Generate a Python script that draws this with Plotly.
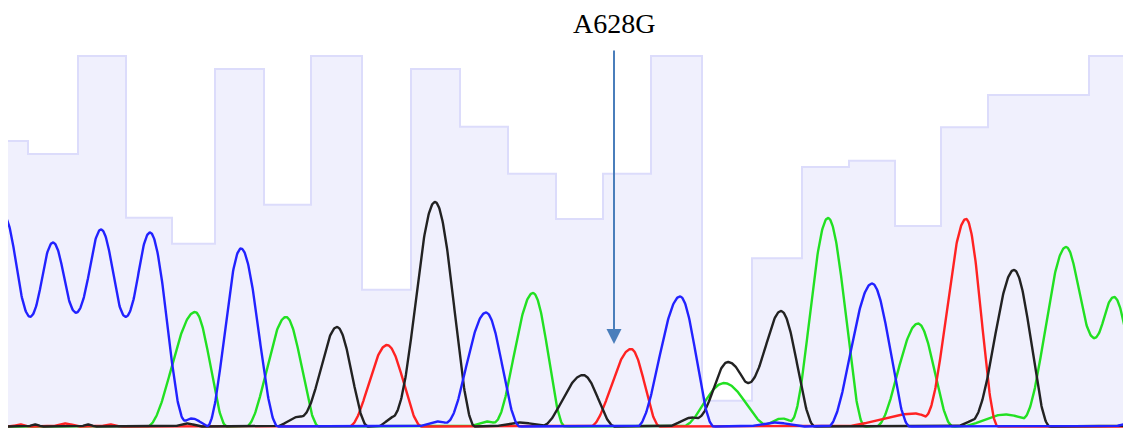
import numpy as np
import plotly.graph_objects as go

# ---------------- data ----------------
# quality bars: scan boundaries of each called base and its quality value
qual_edges = [7, 28, 78, 126, 172, 215, 264, 311, 362, 411, 460, 508, 556, 603,
              651, 702, 752, 802, 849, 895, 941, 988, 1038, 1089, 1140]
qual_values = [46.3, 44.2, 60.0, 33.9, 29.7, 57.9, 36.0, 60.0, 22.3, 57.9, 48.6, 41.0,
               33.7, 41.0, 60.0, 4.4, 27.4, 42.1, 43.1, 32.6, 48.5, 53.7, 53.7, 60.0]

# peaks per channel: scan position, height, left half-width, right half-width
blue_pos = [4, 53, 101, 150, 192, 241, 438, 486, 680, 775, 872, 1150]
blue_h   = [210, 184, 197, 194, 8, 178, 5, 114, 130, 4, 143, 8]
blue_wl  = [38, 38, 38, 38, 18, 34, 22, 41, 43, 30, 44, 40]
blue_wr  = [38, 38, 38, 36, 18, 37, 22, 34, 34, 30, 38, 40]

green_pos = [195, 286, 487, 533, 724, 782, 828, 918, 1005, 1066, 1114]
green_h   = [114.5, 109.5, 5, 133.5, 43.5, 8, 208.5, 103, 12, 179.5, 129.5]
green_wl  = [48, 40, 20, 40, 42, 22, 38, 42, 45, 44, 38]
green_wr  = [32, 33, 20, 32, 46, 22, 37, 35, 45, 38, 33]

black_pos = [35, 88, 187, 300, 337, 395, 435, 520, 583, 692, 728, 781, 975, 1014, 1150]
black_h   = [2, 2, 3, 10, 99.5, 10, 224.5, 4, 51.5, 9, 64.5, 115.5, 6, 156.5, 30]
black_wl  = [8, 8, 15, 25, 36, 18, 42, 30, 42, 25, 33, 39, 20, 42, 30]
black_wr  = [8, 8, 15, 25, 31, 18, 40, 30, 32, 20, 44, 34, 20, 36, 30]

red_pos = [20, 65, 110, 387, 631, 915, 966]
red_h   = [2, 3, 2, 81.5, 77.5, 13, 207.5]
red_wl  = [10, 15, 12, 38, 41, 75, 42]
red_wr  = [10, 15, 12, 35, 29, 30, 32]

mutation_label = "A628G"
mutation_scan = 614

# ---------------- build traces ----------------
scan = np.arange(7, 1132, 0.5)


def trace_signal(pos, h, wl, wr):
    y = np.zeros_like(scan)
    for p, hh, a, b in zip(pos, h, wl, wr):
        d = scan - p
        w = np.where(d < 0, a, b)
        inside = np.abs(d) < w
        y += np.where(inside, hh * np.cos(np.pi * d / (2 * w)) ** 2, 0.0)
    return y


fig = go.Figure()

fig.add_trace(go.Scatter(
    x=qual_edges, y=qual_values + [qual_values[-1]],
    mode="lines", line=dict(shape="hv", color="#dcdcfb", width=2),
    fill="tozeroy", fillcolor="#f0f0fd", yaxis="y", hoverinfo="skip",
    showlegend=False))

channels = [
    (green_pos, green_h, green_wl, green_wr, "#22e022"),
    (red_pos, red_h, red_wl, red_wr, "#ff2222"),
    (black_pos, black_h, black_wl, black_wr, "#222222"),
    (blue_pos, blue_h, blue_wl, blue_wr, "#2222ff"),
]
for pos, h, wl, wr, col in channels:
    fig.add_trace(go.Scatter(
        x=scan, y=trace_signal(pos, h, wl, wr), mode="lines",
        line=dict(color=col, width=2.4), yaxis="y2", showlegend=False,
        hoverinfo="skip"))

fig.add_annotation(
    x=mutation_scan, y=82.5, ax=mutation_scan, ay=377.5,
    xref="x", yref="y2", axref="x", ayref="y2", text="",
    showarrow=True, arrowhead=2, arrowsize=1.5, arrowwidth=2,
    arrowcolor="#4a7ebb", standoff=0)

fig.add_annotation(
    x=mutation_scan, y=1.0125, xref="x", yref="paper", text=mutation_label,
    showarrow=False, yanchor="middle", borderpad=0,
    font=dict(family="Liberation Serif, Times New Roman, serif", size=28, color="black"))

# the page adds an 8 px body margin, so the figure is 8 px smaller each way
fig.update_layout(
    width=1123, height=420,
    margin=dict(l=0, r=0, t=20, b=0),
    paper_bgcolor="white", plot_bgcolor="white",
    xaxis=dict(range=[8, 1131], visible=False),
    yaxis=dict(range=[0, 64.52], visible=False),
    yaxis2=dict(range=[-1.5, 398.5], visible=False, overlaying="y"),
)

fig.write_html("out.html")
